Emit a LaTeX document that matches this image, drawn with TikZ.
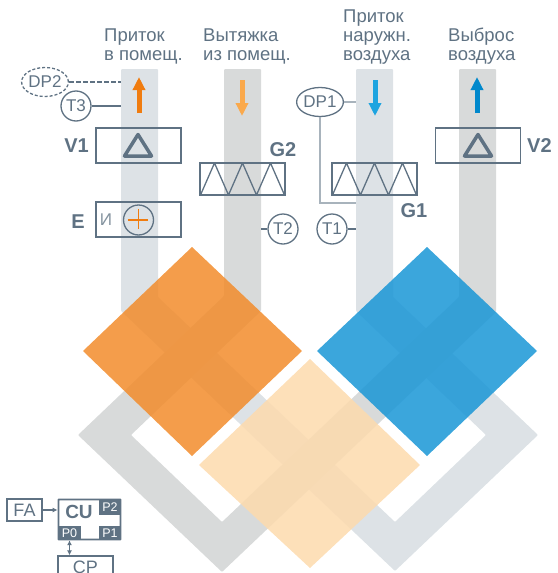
\documentclass[tikz,border=0pt]{standalone}
\usepackage{fontspec}
\setmainfont{Liberation Sans}
\usetikzlibrary{arrows.meta,shapes.geometric}
\definecolor{ductblue}{HTML}{DDE2E6}
\definecolor{ductgray}{HTML}{D8DADA}
\definecolor{linecol}{HTML}{5F7283}
\definecolor{wirecol}{HTML}{A8B3BC}
\definecolor{hotcol}{HTML}{F07C0F}
\definecolor{warmcol}{HTML}{FAA94C}
\definecolor{coldcol}{HTML}{1EA4E0}
\definecolor{deepcol}{HTML}{0088CC}
\definecolor{orangepane}{HTML}{F28C2C}
\definecolor{bluepane}{HTML}{1996D6}
\definecolor{palepane}{HTML}{FDDAAD}
\tikzset{
	caption/.style={anchor=west,align=left,inner sep=0pt,text=linecol,font=\fontsize{18.5}{19}\selectfont},
	unit/.style={draw=linecol,line width=1.4pt,rectangle,minimum width=85pt,inner sep=0pt},
	sensor/.style={draw=linecol,line width=1.3pt,circle,minimum size=30pt,inner sep=0pt,text=linecol,font=\fontsize{17}{17}\selectfont},
	oval/.style={draw=linecol,line width=1.3pt,ellipse,minimum width=45pt,minimum height=29pt,inner sep=0pt,text=linecol,font=\fontsize{17}{17}\selectfont},
	tag/.style={inner sep=0pt,text=linecol,font=\fontsize{20}{20}\selectfont\bfseries},
	port/.style={fill=linecol,text=white,rectangle,inner sep=0pt,font=\fontsize{12.5}{12.5}\selectfont},
	small/.style={draw=linecol,line width=1.3pt,rectangle,inner sep=0pt,text=linecol,font=\fontsize{18}{18}\selectfont},
	flow/.style={line width=5pt,-{Triangle[length=13pt,width=12pt]}},
	wire/.style={draw=linecol,line width=1.3pt}
}
\begin{document}
\begin{tikzpicture}[x=1pt,y=-1pt]
	\useasboundingbox (0,0) rectangle (557,573);

	\fill[ductblue,rounded corners=1pt] (121,69) -- (158,69) -- (158,297) -- (395,522) -- (486,435) -- (356,311) -- (356,69) -- (393,69) -- (393,297) -- (538,435) -- (395,571) -- (121,311) -- cycle;%supply
	\fill[ductgray,rounded corners=1pt] (224,69) -- (261,69) -- (261,311) -- (131,435) -- (222,522) -- (459,297) -- (459,69) -- (496,69) -- (496,312) -- (222,572) -- (78,435) -- (224,296) -- cycle;%extract

	\fill[orangepane,opacity=0.85] (192,247) -- (302,351) -- (192,456) -- (83,351) -- cycle;
	\fill[bluepane,opacity=0.85] (427,247) -- (537,351) -- (427,456) -- (317,351) -- cycle;
	\fill[palepane,opacity=0.85] (310,359) -- (420,465) -- (310,568) -- (199,465) -- cycle;

	\node[caption] (inlet) at (104,46) {Приток\\в помещ.};
	\node[caption] (room) at (203,46) {Вытяжка\\из помещ.};
	\node[caption] (outside) at (343,37) {Приток\\наружн.\\воздуха};
	\node[caption] (exhaust) at (448,46) {Выброс\\воздуха};

	\coordinate (a1) at (139,113);
	\coordinate (a2) at (139,77);
	\coordinate (b1) at (242,80);
	\coordinate (b2) at (242,116);
	\coordinate (c1) at (375,80);
	\coordinate (c2) at (375,116);
	\coordinate (d1) at (477,113);
	\coordinate (d2) at (477,77);
	\draw[flow,hotcol] (a1) -- (a2);
	\draw[flow,warmcol] (b1) -- (b2);
	\draw[flow,coldcol] (c1) -- (c2);
	\draw[flow,deepcol] (d1) -- (d2);

	\node[oval,dash pattern=on 3pt off 2pt] (dp2) at (45,82) {DP2};
	\node[sensor] (t3) at (76,106) {T3};
	\coordinate (dp2end) at (121,82);
	\coordinate (t3end) at (121,106);
	\draw[wire,line width=1.8pt,dash pattern=on 4.5pt off 2.5pt] (dp2) -- (dp2end);
	\draw[wire] (t3) -- (t3end);

	\node[unit,minimum height=35pt] (v1) at (138.5,145.5) {};
	\node[unit,minimum height=35pt] (v2) at (478,145.5) {};
	\node[tag,anchor=east] (v1tag) at (89,146) {V1};
	\node[tag,anchor=west] (v2tag) at (527,146) {V2};
	\draw[linecol,line width=3.5pt,line join=round] (138,134.5) -- (151.5,156) -- (124.5,156) -- cycle;%fan
	\draw[linecol,line width=3.5pt,line join=round] (478,134.5) -- (491.5,156) -- (464.5,156) -- cycle;%fan

	\node[unit,minimum height=35pt] (e) at (138.5,219.5) {};
	\node[tag,anchor=east] (etag) at (85,222) {E};
	\node[inner sep=0pt,text=wirecol!50!linecol,font=\fontsize{17}{17}\selectfont] (eletter) at (106,220) {И};
	\node[sensor] (heater) at (138.5,220) {};
	\draw[hotcol,line width=1.2pt] (heater.west) ++(5,0) -- ++(20,0);
	\draw[hotcol,line width=1.2pt] (heater.north) ++(0,5) -- ++(0,20);

	\node[unit,minimum height=32pt] (g2) at (242.5,179) {};
	\node[unit,minimum height=32pt] (g1) at (374.5,179) {};
	\foreach \x in {200.5,332.5} {
		\draw[linecol,line width=1.3pt,line join=round] (\x,195) -- ++(14,-32) -- ++(14,32) -- ++(14,-32) -- ++(14,32) -- ++(14,-32) -- ++(14,32);%coil
	}
	\node[tag] (g2tag) at (283,150) {G2};
	\node[tag] (g1tag) at (414,211) {G1};

	\node[sensor] (t2) at (283,229) {T2};
	\node[sensor] (t1) at (332,229) {T1};
	\coordinate (t2end) at (261,229);
	\coordinate (t1end) at (356,229);
	\draw[wire] (t2) -- (t2end);
	\draw[wire] (t1) -- (t1end);

	\node[oval] (dp1) at (320,102) {DP1};
	\coordinate (dp1top) at (356,102);
	\coordinate (dp1low) at (356,203);
	\draw[wirecol,line width=1.2pt] (dp1) -- (dp1top);
	\draw[wirecol,line width=1.2pt] (dp1.south) |- (dp1low);

	\node[small,minimum width=35pt,minimum height=22pt] (fa) at (24.5,510) {FA};
	\node[draw=linecol,line width=1.8pt,rectangle,minimum width=62pt,minimum height=40pt,inner sep=0pt,rounded corners=0.5pt] (cu) at (89.5,519.5) {};
	\node[inner sep=0pt,text=linecol,font=\fontsize{19}{19}\selectfont\bfseries] (cutext) at (79,512) {CU};
	\node[port,minimum width=22pt,minimum height=16pt] (p2) at (110,507) {P2};
	\node[port,minimum width=23pt,minimum height=14pt] (p0) at (69.5,533) {P0};
	\node[port,minimum width=22pt,minimum height=14pt] (p1) at (110,533) {P1};
	\node[small,minimum width=55pt,minimum height=22pt] (cp) at (85.5,567) {CP};
	\draw[linecol,line width=1.2pt,-{Latex[length=5pt,width=5pt]}] (fa) -- (fa-|cu.west);
	\draw[linecol,line width=1.2pt,{Latex[length=5pt,width=5pt]}-{Latex[length=5pt,width=5pt]}] (p0.south) -- (p0.south|-cp.north);
\end{tikzpicture}
\end{document}
